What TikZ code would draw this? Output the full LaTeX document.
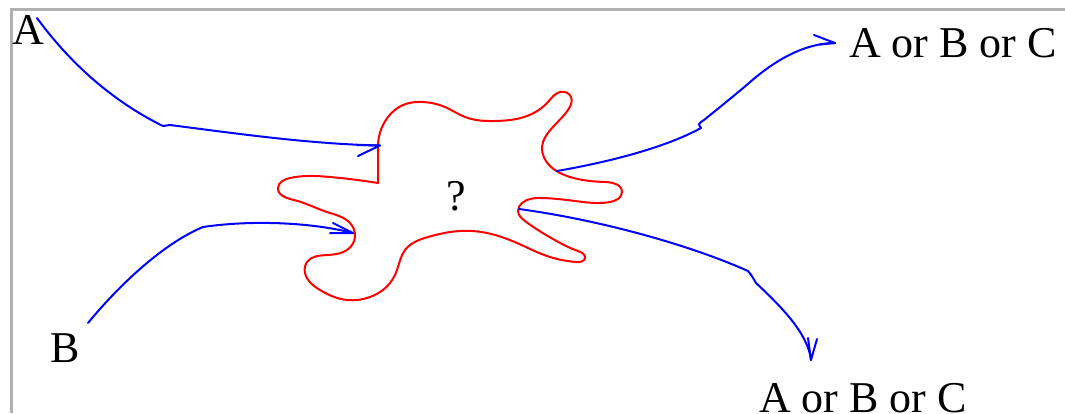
\documentclass[tikz,border=0pt]{standalone}
\usepackage{fontspec}
\setmainfont{Liberation Serif}
\usetikzlibrary{hobby}
\definecolor{framegray}{RGB}{176,176,176}
\definecolor{pblue}{RGB}{0,0,255}
\definecolor{pred}{RGB}{255,0,0}
\begin{document}
\begin{tikzpicture}[x=1pt,y=-1pt,
  lbl/.style={inner sep=0pt,anchor=base west,font=\fontsize{44}{48}\selectfont},
  flow/.style={draw=pblue,line width=2pt,line cap=round,line join=round},
  blob/.style={draw=pred,line width=2pt,line join=round},
  frameline/.style={draw=framegray,line width=3pt}]
\useasboundingbox (0,0) rectangle (1065,413);
\draw[frameline] (11.5,413) -- (11.5,9.5) -- (1065,9.5);

% labels
\node[lbl] (A) at (12,44) {A};
\node[lbl] (B) at (50,362) {B};
\node[lbl] (out1) at (849,57) {A or B or C};
\node[lbl] (out2) at (759,412) {A or B or C};
\node[lbl] (q) at (446,210) {?};

% attachment points
\coordinate (aStart) at (37,18);
\coordinate (bStart) at (88,323);
\coordinate (inA) at (380,145.5);
\coordinate (inB) at (353,233);
\coordinate (outA) at (557,171);
\coordinate (outB) at (519,209);
\coordinate (tipTR) at (835,43);
\coordinate (tipBR) at (811,360);

% blob
\draw[blob, use Hobby shortcut] (378,147) .. (388,117) .. (403,105) .. (423,102) .. (445,107) .. (465,117) .. (495,121) .. (527,116) .. (548,102) .. (560,92) .. (571,97) .. (568,110) .. (552,128) .. (542,147) .. (550,166) .. (570,177) .. (605,182) .. (622,192) .. (610,202) .. (575,201) .. (543,198) .. (522,203) .. (518,211) .. (525,221) .. (553,239) .. (578,251) .. (585,258) .. (576,262) .. (550,257) .. (517,243) .. (487,233) .. (460,231) .. (428,237) .. (405,250) .. (397,270) .. (390,283) .. (370,297) .. (347,300) .. (320,290) .. (305,273) .. (307,262) .. (327,255) .. (347,250) .. (355,237) .. (350,223) .. (327,212) .. (294,200) .. (278,188) .. (290,178) .. (330,177) .. (378,183) -- cycle;

% arrow from A
\draw[flow] (aStart) .. controls (75,70) and (120,105) .. (163,126)
  .. controls (166,125) .. (170,125)
  .. controls (240,134) and (310,144) .. (inA);
\draw[flow] (357,145) -- (inA) -- (358,156);

% arrow from B
\draw[flow] (bStart) .. controls (115,290) and (160,245) .. (203,227)
  .. controls (250,220) and (310,222) .. (inB);
\draw[flow] (333,223) -- (inB) -- (330,233);

% arrow to top right
\draw[flow] (outA) .. controls (620,160) and (670,145) .. (701,128)
  .. controls (698,124) .. (704,120)
  .. controls (720,107) and (735,95) .. (749,83)
  .. controls (775,60) and (805,43) .. (tipTR);
\draw[flow] (814,35) -- (tipTR) -- (820,44.5);

% arrow to bottom right
\draw[flow] (outB) .. controls (600,220) and (690,245) .. (748,271)
  .. controls (752,276) .. (756,283)
  .. controls (785,310) and (808,335) .. (tipBR);
\draw[flow] (817,339) -- (tipBR) -- (808,338);
\end{tikzpicture}
\end{document}
